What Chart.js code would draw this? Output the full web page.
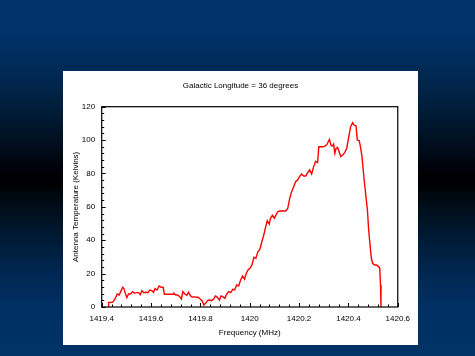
<!DOCTYPE html>
<html>
<head>
<meta charset="utf-8">
<script src="https://cdn.jsdelivr.net/npm/chart.js@4.4.1/dist/chart.umd.min.js"></script>
<style>
  html, body { margin: 0; padding: 0; }
  body {
    width: 475px; height: 356px; overflow: hidden; position: relative;
    background: linear-gradient(to bottom,
      #003366 0%, #00336a 9%, #002a55 20%, #001a33 33%, #000a16 43%,
      #000008 48%, #000000 51%, #000a14 56%, #00182f 65%, #002650 76%,
      #003064 86%, #003366 100%);
  }
  #panel { position: absolute; left: 63px; top: 71px; width: 355px; height: 274px; background: #ffffff; }
  canvas { display: block; }
</style>
</head>
<body>
<div id="panel"><canvas id="c" width="355" height="274"></canvas></div>
<script>
// ---- data ----
const frequencyMHz = [
  1419.427, 1419.428, 1419.444, 1419.454, 1419.463, 1419.471, 1419.477, 1419.485, 1419.490, 1419.495,
  1419.502, 1419.509, 1419.517, 1419.525, 1419.533, 1419.541, 1419.549, 1419.556, 1419.563, 1419.571,
  1419.579, 1419.587, 1419.595, 1419.603, 1419.610, 1419.616, 1419.624, 1419.633, 1419.641, 1419.649,
  1419.654, 1419.689, 1419.693, 1419.700, 1419.708, 1419.716, 1419.723, 1419.729, 1419.737, 1419.745,
  1419.752, 1419.759, 1419.767, 1419.775, 1419.783, 1419.791, 1419.799, 1419.807, 1419.814, 1419.821,
  1419.829, 1419.837, 1419.845, 1419.853, 1419.861, 1419.869, 1419.877, 1419.884, 1419.891, 1419.899,
  1419.907, 1419.915, 1419.923, 1419.931, 1419.939, 1419.947, 1419.955, 1419.963, 1419.971, 1419.979,
  1419.985, 1419.993, 1420.001, 1420.009, 1420.017, 1420.025, 1420.033, 1420.041, 1420.049, 1420.057,
  1420.063, 1420.071, 1420.079, 1420.084, 1420.092, 1420.100, 1420.108, 1420.114, 1420.122, 1420.146,
  1420.154, 1420.162, 1420.170, 1420.178, 1420.186, 1420.194, 1420.202, 1420.210, 1420.219, 1420.227,
  1420.235, 1420.243, 1420.251, 1420.259, 1420.267, 1420.275, 1420.280, 1420.296, 1420.305, 1420.313,
  1420.318, 1420.323, 1420.329, 1420.334, 1420.340, 1420.345, 1420.350, 1420.356, 1420.361, 1420.369,
  1420.377, 1420.385, 1420.393, 1420.399, 1420.404, 1420.409, 1420.417, 1420.423, 1420.431, 1420.436,
  1420.444, 1420.450, 1420.455, 1420.460, 1420.466, 1420.471, 1420.477, 1420.482, 1420.487, 1420.493,
  1420.498, 1420.506, 1420.514, 1420.522, 1420.527, 1420.530, 1420.532
];
const antennaTempK = [
  0, 2.8, 2.8, 4.8, 7.8, 7.2, 9.2, 11.8, 11.0, 8.6,
  5.6, 7.8, 7.8, 9.2, 8.2, 8.6, 8.6, 7.4, 9.8, 8.6,
  8.8, 8.6, 10.2, 9.8, 8.8, 11.0, 10.2, 12.6, 11.8, 11.8,
  7.6, 7.6, 8.2, 7.2, 7.2, 6.2, 4.8, 9.2, 7.8, 7.0,
  8.8, 6.8, 5.8, 6.2, 5.8, 5.8, 4.8, 3.8, 1.2, 2.2,
  3.8, 4.2, 3.8, 4.6, 6.6, 5.8, 4.2, 6.6, 6.2, 5.2,
  7.8, 9.2, 8.6, 10.6, 10.2, 13.2, 12.6, 16.2, 18.6, 16.6,
  19.8, 22.2, 23.2, 25.2, 29.8, 29.2, 33.1, 34.5, 39.1, 43.1,
  47.1, 51.7, 49.7, 53.1, 54.9, 53.1, 55.7, 57.1, 57.5, 57.5,
  59.1, 65.1, 69.1, 72.1, 75.1, 76.1, 78.1, 79.7, 78.5, 78.5,
  80.5, 82.1, 79.7, 84.1, 87.3, 86.5, 96.0, 96.0, 96.4, 97.4,
  99.0, 100.4, 97.0, 96.4, 97.6, 92.1, 95.0, 95.6, 93.6, 90.1,
  91.1, 92.5, 95.0, 100.0, 104.0, 108.0, 110.4, 109.0, 108.4, 100.0,
  99.6, 95.0, 90.1, 82.1, 73.1, 66.1, 58.1, 46.1, 38.1, 29.2,
  26.2, 25.2, 25.2, 24.2, 23.2, 13.2, 0
];
const xTickLabels = ['1419.4', '1419.6', '1419.8', '1420', '1420.2', '1420.4', '1420.6'];
const yTickLabels = ['0', '20', '40', '60', '80', '100', '120'];
const chartTitle = 'Galactic Longitude = 36 degrees';
const xTitle = 'Frequency (MHz)';
const yTitle = 'Antenna Temperature (Kelvins)';

const FONT = { family: '"Liberation Sans", Arial, sans-serif', size: 8, lineHeight: 1, weight: 'normal' };

const points = frequencyMHz.map((f, i) => ({ x: f, y: antennaTempK[i] }));

const frameAndTicks = {
  id: 'frameAndTicks',
  afterDraw(chart) {
    const { ctx, chartArea: a, scales: { x, y } } = chart;
    ctx.save();
    ctx.strokeStyle = '#000';
    ctx.lineWidth = 1;
    for (let k = 0; k <= 30; k++) {
      const v = 1419.4 + k * 0.04;
      const px = Math.round(x.getPixelForValue(v)) + 0.5;
      const len = (k % 5 === 0) ? 4 : 2.5;
      ctx.beginPath(); ctx.moveTo(px, a.bottom); ctx.lineTo(px, a.bottom - len); ctx.stroke();
    }
    for (let k = 0; k <= 30; k++) {
      const v = k * 4;
      const py = Math.round(y.getPixelForValue(v)) + 0.5;
      const len = (k % 5 === 0) ? 4 : 2.5;
      ctx.beginPath(); ctx.moveTo(a.left, py); ctx.lineTo(a.left + len, py); ctx.stroke();
    }
    ctx.lineWidth = 1.2;
    ctx.strokeRect(a.left, a.top, a.right - a.left, a.bottom - a.top);
    ctx.restore();
  }
};

new Chart(document.getElementById('c'), {
  type: 'line',
  data: {
    datasets: [{
      data: points,
      borderColor: '#ff0000',
      borderWidth: 1.4,
      pointRadius: 0,
      tension: 0,
      fill: false
    }]
  },
  options: {
    responsive: false,
    animation: false,
    events: [],
    layout: { padding: 0 },
    plugins: {
      legend: { display: false },
      tooltip: { enabled: false },
      title: {
        display: true,
        text: chartTitle,
        color: '#000',
        font: FONT,
        padding: { top: 10.5, bottom: 17.2 }
      }
    },
    scales: {
      x: {
        type: 'linear',
        min: 1419.4,
        max: 1420.6,
        afterFit(s) { s.height = 38; },
        afterBuildTicks(s) {
          s.ticks = xTickLabels.map(l => ({ value: parseFloat(l) }));
        },
        grid: { display: false, drawTicks: false },
        border: { display: false },
        ticks: {
          color: '#000',
          font: FONT,
          padding: 8,
          maxRotation: 0,
          autoSkip: false,
          callback: (v, i) => xTickLabels[i]
        },
        title: {
          display: true,
          text: xTitle,
          color: '#000',
          font: FONT,
          padding: { top: 0, bottom: 8.3 }
        }
      },
      y: {
        type: 'linear',
        min: 0,
        max: 120,
        afterFit(s) { s.width = 38.7; },
        afterBuildTicks(s) {
          s.ticks = yTickLabels.map(l => ({ value: parseFloat(l) }));
        },
        grid: { display: false, drawTicks: false },
        border: { display: false },
        ticks: {
          color: '#000',
          font: FONT,
          padding: 6.5,
          autoSkip: false,
          callback: (v, i) => yTickLabels[i]
        },
        title: {
          display: true,
          text: yTitle,
          color: '#000',
          font: FONT,
          padding: { top: 8.5, bottom: 0 }
        }
      },
      yRight: {
        type: 'linear',
        position: 'right',
        min: 0,
        max: 120,
        afterFit(s) { s.width = 18.7; },
        grid: { display: false, drawTicks: false },
        border: { display: false },
        ticks: { display: false }
      }
    }
  },
  plugins: [frameAndTicks]
});
</script>
</body>
</html>
